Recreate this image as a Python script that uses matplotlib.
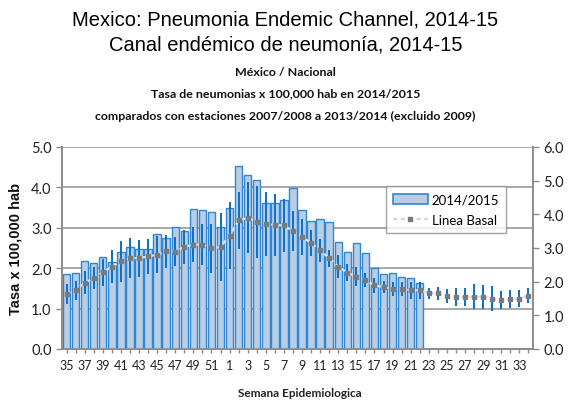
import matplotlib
matplotlib.use("Agg")
import matplotlib.pyplot as plt
from matplotlib.patches import Patch
from matplotlib.lines import Line2D
import numpy as np

weeks = list(range(35, 53)) + list(range(1, 35))
rate_2014_15 = [1.86, 1.89, 2.19, 2.12, 2.27, 2.15, 2.41, 2.52, 2.48, 2.48,
                2.85, 2.74, 3.02, 2.92, 3.47, 3.44, 3.40, 3.02, 3.50, 4.53,
                4.31, 4.19, 3.62, 3.62, 3.69, 3.98, 3.43, 3.18, 3.21, 3.14,
                2.66, 2.41, 2.63, 2.38, 2.00, 1.86, 1.89, 1.79, 1.75, 1.64]
baseline = [1.63, 1.75, 1.97, 2.10, 2.28, 2.45, 2.60, 2.70, 2.70, 2.75,
            2.80, 2.90, 2.89, 3.03, 3.10, 3.10, 2.99, 3.03, 3.37, 3.82,
            3.90, 3.77, 3.72, 3.68, 3.67, 3.50, 3.33, 3.15, 2.93, 2.70,
            2.45, 2.27, 2.15, 2.05, 1.89, 1.84, 1.78, 1.78, 1.75, 1.74,
            1.65, 1.65, 1.58, 1.55, 1.55, 1.55, 1.54, 1.50, 1.45, 1.48,
            1.50, 1.58]
baseline_err = [0.30, 0.28, 0.35, 0.33, 0.40, 0.50, 0.60, 0.60, 0.55, 0.53,
                0.55, 0.50, 0.43, 0.50, 0.52, 0.60, 0.72, 1.00, 1.00, 0.85,
                1.05, 1.07, 0.95, 0.92, 0.80, 0.60, 0.53, 0.38, 0.35, 0.25,
                0.33, 0.25, 0.28, 0.22, 0.22, 0.18, 0.20, 0.22, 0.25, 0.25,
                0.17, 0.18, 0.20, 0.27, 0.27, 0.37, 0.35, 0.37, 0.27, 0.27,
                0.25, 0.22]
left_ticks = [0.0, 1.0, 2.0, 3.0, 4.0, 5.0]
right_ticks = [0.0, 1.0, 2.0, 3.0, 4.0, 5.0, 6.0]

title1 = "Mexico: Pneumonia Endemic Channel, 2014-15"
title2 = "Canal endémico de neumonía, 2014-15"
sub1 = "México / Nacional"
sub2 = "Tasa de neumonias x 100,000 hab en 2014/2015"
sub3 = "comparados con estaciones 2007/2008 a 2013/2014 (excluido 2009)"

bar_fill = "#b9cde5"
bar_edge = "#2f86d4"
err_col = "#0b6fc4"
grid_col = "#9a9a9a"
spine_col = "#8c8c8c"
tick_font = "Lato"

fig = plt.figure(figsize=(5.71, 4.02), dpi=100)
ax = fig.add_axes([62/571, 1-350/402, 471/571, 202/402])
ax2 = ax.twinx()

x_all = np.arange(len(weeks))
x_bars = x_all[:len(rate_2014_15)]

ax.bar(x_bars, rate_2014_15, width=0.82, color=bar_fill, edgecolor=bar_edge,
       linewidth=1.0, zorder=3)
ax.set_ylim(0, 5)
ax.set_yticks(left_ticks)
ax.set_yticklabels([f"{v:.1f}" for v in left_ticks], fontfamily=tick_font, fontsize=10.5)
ax.set_xlim(-0.5, len(weeks) - 0.5)
ax.set_xticks(x_all)
ax.set_xticklabels([str(w) if i % 2 == 0 else "" for i, w in enumerate(weeks)],
                   fontfamily=tick_font, fontsize=9)
ax.yaxis.grid(True, color=grid_col, linewidth=1.2, zorder=0)
ax.set_axisbelow(True)

ax2.errorbar(x_all, baseline, yerr=baseline_err, fmt="none", ecolor=err_col,
             elinewidth=1.4, capsize=0, zorder=4)
ax2.plot(x_all, baseline, color="#d6e3f2", linestyle=(0, (2, 1.5)), linewidth=1.6,
         zorder=5)
ax2.plot(x_all, baseline, linestyle="none", marker="s", markersize=3.2,
         color="#7a7a7a", zorder=6)
ax2.set_ylim(0, 6)
ax2.set_yticks(right_ticks)
ax2.set_yticklabels([f"{v:.1f}" for v in right_ticks], fontfamily=tick_font, fontsize=10.5)

for a in (ax, ax2):
    a.spines["top"].set_visible(False)
    for s in ("left", "right", "bottom"):
        a.spines[s].set_color(spine_col)
        a.spines[s].set_linewidth(1.2)
    a.tick_params(colors=spine_col, labelcolor="#222222", length=4, width=1)
ax.tick_params(axis="x", length=3, pad=4)

ax.set_ylabel("Tasa x 100,000 hab", fontfamily="Liberation Sans", fontweight="bold",
              fontsize=10.5, color="#111111", labelpad=6)
fig.text(0.525, 1-394/402, "Semana Epidemiologica", ha="center", va="center",
         fontfamily=tick_font, fontweight="bold", fontsize=8.5, color="#222222")

handles = [Patch(facecolor=bar_fill, edgecolor=bar_edge, linewidth=1.2),
           Line2D([0], [0], color="#c9d9ec", linestyle=(0, (2, 1.5)), linewidth=1.6,
                  marker="s", markersize=3.2, markerfacecolor="#7a7a7a",
                  markeredgecolor="#7a7a7a")]
leg = ax2.legend(handles, ["2014/2015", "Linea Basal"], loc="upper left",
                 bbox_to_anchor=(0.688, 0.805), frameon=True, fancybox=False,
                 prop={"family": tick_font, "size": 9.5}, borderpad=0.55,
                 handlelength=2.6, handletextpad=0.3, labelspacing=0.6,
                 borderaxespad=0)
leg.get_frame().set_edgecolor("#8c8c8c")
leg.get_frame().set_linewidth(1.0)

fig.text(0.5, 1-20/402, title1, ha="center", va="center",
         fontfamily="Liberation Sans", fontsize=14.5)
fig.text(0.5, 1-45/402, title2, ha="center", va="center",
         fontfamily="Liberation Sans", fontsize=14.5)
for txt, yp in ((sub1, 72), (sub2, 94), (sub3, 116)):
    fig.text(0.5, 1-yp/402, txt, ha="center", va="center", fontfamily=tick_font,
             fontweight="bold", fontsize=8.9, color="#111111")

fig.savefig("out.png", dpi=100)
